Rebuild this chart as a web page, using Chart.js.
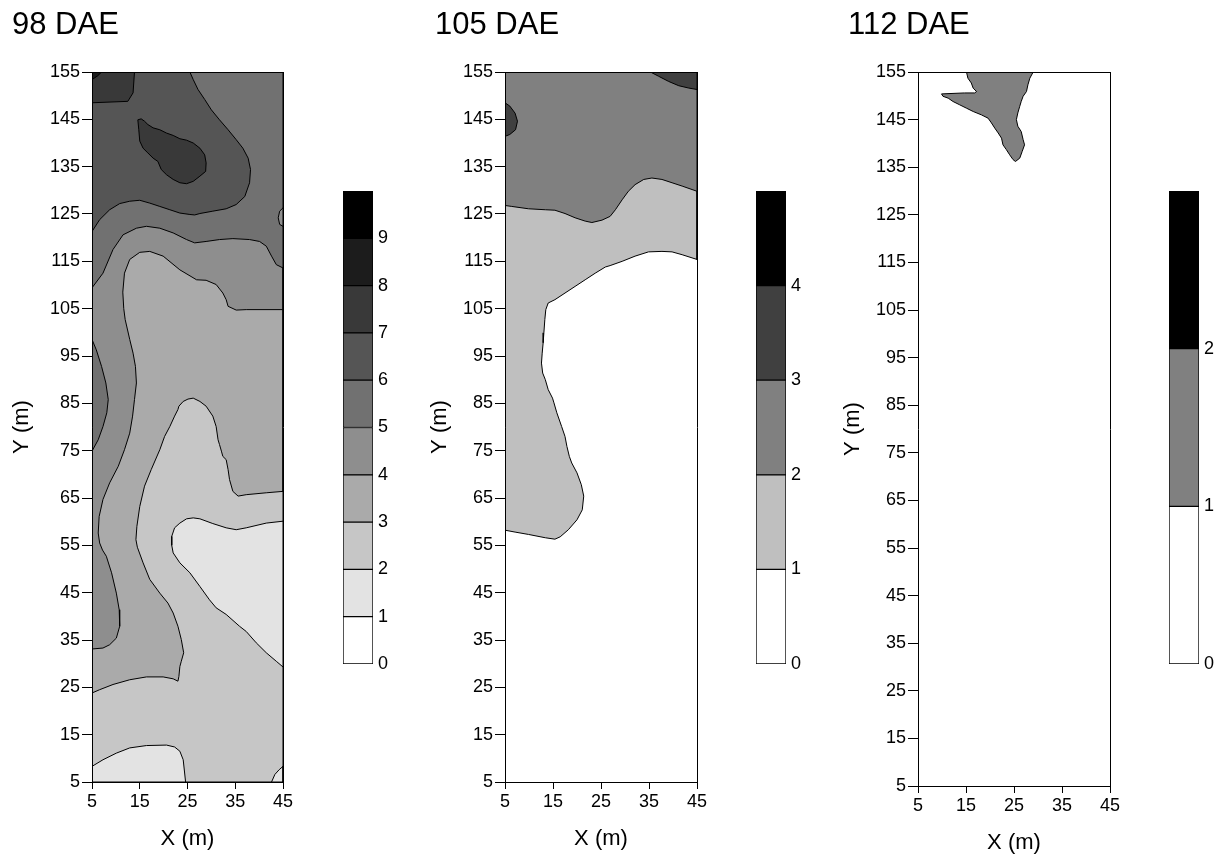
<!DOCTYPE html>
<html>
<head>
<meta charset="utf-8">
<script src="https://cdn.jsdelivr.net/npm/chart.js@4.4.1/dist/chart.umd.min.js"></script>
<style>
  body { margin: 0; background: #fff; width: 1230px; height: 859px; position: relative; overflow: hidden; }
  canvas { position: absolute; top: 0; }
</style>
</head>
<body>
<canvas id="map98" width="300" height="859" style="left:2px"></canvas>
<canvas id="bar98" width="60" height="859" style="left:343px"></canvas>
<canvas id="map105" width="300" height="859" style="left:425px"></canvas>
<canvas id="bar105" width="60" height="859" style="left:756px"></canvas>
<canvas id="map112" width="300" height="859" style="left:838px"></canvas>
<canvas id="bar112" width="60" height="859" style="left:1169px"></canvas>
<script>
// contour outlines, [X (m), Y (m)]

// 98 DAE
const dae98_all = [[5, 5], [45, 5], [45, 155], [5, 155], [5, 5]];
const dae98_lt2_a = [[45, 60.1], [41.5, 59.7], [37.3, 58.7], [35.2, 58.3], [33.1, 58.7], [30.3, 59.6], [27.6, 60.6], [26.2, 60.8], [24.8, 60.6], [23.4, 59.7], [22.3, 58.7], [21.7, 56.9], [21.7, 55], [22, 53.4], [23.4, 51.3], [25.5, 49.2], [27.6, 46.3], [29.6, 43.5], [31, 41.8], [33.1, 40.4], [35.9, 37.9], [37.3, 36.8], [39.4, 34.4], [41.5, 32.3], [43.6, 30.5], [45, 29.3], [45, 60.1]];
const dae98_lt2_b = [[5, 8.3], [7.3, 9.7], [10.1, 11.1], [12.9, 12.2], [16.4, 12.7], [20.6, 12.8], [22.3, 12.4], [23.4, 11.5], [24.1, 9.7], [24.4, 6.9], [24.6, 5], [5, 5], [5, 8.3]];
const dae98_lt2_c = [[42.6, 5], [43.3, 6.6], [44.2, 7.6], [45, 8.3], [45, 5], [42.6, 5]];
const dae98_ge3 = [[45, 66.4], [41.5, 66.1], [37.3, 65.7], [35.6, 65.4], [34.5, 66.4], [33.8, 68.9], [33.5, 71], [33.1, 73.1], [32.4, 73.8], [32.1, 74.9], [31.7, 76.3], [31.4, 77.3], [31, 80.1], [30.3, 82.3], [28.9, 84.4], [27.6, 85.4], [26.2, 86.1], [25.1, 85.9], [24.1, 85.4], [23.2, 84.4], [23, 83.7], [22.3, 82.3], [21.3, 80.1], [20.2, 78], [19.2, 75.2], [17.4, 71], [16, 67.5], [15, 63.2], [14.4, 59], [14.2, 56.2], [14.5, 54.6], [15.7, 51.3], [17.1, 47.8], [19.2, 44.9], [20.9, 42.8], [22, 40.7], [23, 37.9], [23.7, 35.1], [24.2, 32.3], [23.7, 30.5], [23.4, 29.4], [23.2, 27.3], [23, 26.3], [22, 26.8], [19.9, 27.2], [16.4, 27.2], [12.9, 26.6], [9.4, 25.6], [6.6, 24.5], [5, 23.8], [5, 155], [45, 155], [45, 66.4]];
const dae98_ge4 = [[45, 104.8], [37.3, 104.8], [35.2, 104.7], [33.5, 105.5], [33.1, 106.9], [32.4, 108.3], [31, 110.1], [28.9, 111], [26.9, 111.1], [23.4, 113.2], [19.9, 116.1], [17.1, 117.1], [15, 116.9], [12.9, 115.4], [11.8, 112.5], [11.45, 108.5], [11.65, 105], [11.95, 102.7], [12.9, 98.5], [13.6, 95.6], [14.1, 92.8], [14.3, 89.3], [13.9, 85.8], [13.5, 82.3], [12.9, 78.7], [11.8, 75.2], [10.5, 71.7], [8.7, 68.2], [7.3, 64.7], [6.5, 61.1], [6.3, 57.6], [6.6, 55.5], [7.2, 54], [8, 52.7], [9.1, 49.2], [10.1, 44.9], [10.7, 41.4], [10.8, 37.9], [10.1, 35.4], [8.7, 34], [7.3, 33.3], [5, 33.1], [5, 155], [45, 155], [45, 104.8]];
const dae98_ge5 = [[5, 109.4], [7.3, 112.5], [9.4, 117.5], [11.5, 120.6], [14.3, 122], [16.4, 122.4], [19.2, 122], [22, 121], [24.8, 119.6], [26.5, 118.9], [28.9, 119.2], [31.7, 119.6], [34.5, 119.8], [38, 119.6], [40.1, 119.2], [41.5, 118.2], [42.6, 116.1], [43.6, 114.3], [45, 113.6], [45, 155], [5, 155], [5, 109.4]];
const dae98_ge5_strip = [[5, 98.5], [5.9, 96.3], [7, 92.8], [7.9, 89.3], [8.4, 85.8], [8.1, 83], [7.3, 80.1], [6.3, 77.3], [5, 74.9], [5, 98.5]];
const dae98_lt5_notch = [[45, 126.3], [44.3, 125.6], [44, 124.2], [44.3, 122.8], [45, 122.4], [45, 126.3]];
const dae98_ge6 = [[25.5, 155], [26.2, 153.4], [27.2, 151.3], [28.6, 149.2], [30, 147], [31.7, 144.9], [33.5, 142.8], [35.2, 140.7], [36.6, 138.9], [37.7, 136.8], [38.2, 134.4], [38, 131.6], [37, 128.7], [35.2, 127], [33.1, 126.1], [30.3, 125.6], [27.6, 125.1], [26.5, 124.8], [25.5, 124.9], [23.4, 125.2], [21.3, 125.9], [19.2, 126.6], [17.1, 127.3], [15, 127.9], [12.9, 127.7], [10.8, 127.2], [8.7, 125.9], [6.6, 123.8], [5, 121.3], [5, 155], [25.5, 155]];
const dae98_ge7_corner = [[5, 155], [13.9, 155], [13.6, 150.6], [12.5, 148.8], [5, 148.5], [5, 155]];
const dae98_ge7_blob = [[14.6, 144.9], [15.3, 145.1], [16, 144.6], [16.7, 143.9], [17.8, 143.2], [19.2, 142.8], [20.6, 142.1], [22, 141.6], [23.4, 140.9], [24.8, 140.6], [26.2, 140], [27.6, 138.9], [28.6, 137.5], [28.9, 135.8], [28.8, 134], [27.6, 133], [26.2, 131.9], [24.8, 131.4], [23.4, 131.6], [22, 132.3], [20.6, 133.3], [19.5, 134.4], [18.8, 136.1], [17.8, 136.8], [16.7, 137.9], [15.7, 138.9], [15, 140.4], [14.8, 142.8], [14.6, 144.9]];
const dae98_ge8 = [[5, 155], [7, 155], [6.2, 154.2], [5, 153.4], [5, 155]];

// 105 DAE
const dae105_ge1 = [[45, 115.4], [41.9, 116.4], [39.8, 117], [37.7, 117.1], [34.9, 117], [32.1, 116.1], [29.4, 115], [26.9, 114.1], [25.9, 113.8], [23.8, 112.5], [21.7, 111.1], [19.6, 109.7], [17.5, 108.3], [15.4, 106.9], [14, 106.2], [13.5, 104.8], [13.3, 102.7], [13.1, 99.9], [12.95, 97.8], [12.75, 95.6], [12.6, 93.5], [12.85, 91.4], [13.4, 90], [14, 87.9], [14.9, 86.1], [15.2, 85.1], [15.8, 83], [16.8, 80.1], [17.5, 78], [17.9, 75.9], [18.4, 73.8], [18.9, 72.4], [20, 70.3], [20.9, 67.8], [21.4, 65.4], [21.1, 62.5], [20, 60.4], [18.2, 58.3], [16.5, 56.8], [15.4, 56.3], [13.4, 56.6], [9.9, 57.3], [7.1, 57.8], [5, 58.2], [5, 155], [45, 155], [45, 115.4]];
const dae105_ge2 = [[5, 126.8], [6.4, 126.6], [9.9, 126.1], [13.4, 125.9], [15.4, 125.8], [17.5, 125.1], [19.6, 124.2], [21.7, 123.5], [23.1, 123.2], [25.2, 123.7], [26.9, 124.5], [28, 125.9], [29.4, 128], [30.7, 129.8], [32.1, 131.2], [33.9, 132.3], [35.6, 132.6], [37.7, 132.3], [39.8, 131.6], [41.9, 130.9], [45, 129.8], [45, 155], [5, 155], [5, 126.8]];
const dae105_ge3_a = [[35.3, 155], [37, 154.1], [39.1, 153], [41.2, 152.1], [43.3, 151.6], [45, 151.3], [45, 155], [35.3, 155]];
const dae105_ge3_b = [[5, 148.5], [6, 147.8], [7.1, 146.3], [7.6, 144.6], [7.2, 142.8], [6, 141.8], [5, 141.4], [5, 148.5]];

// 112 DAE
const dae112_ge1 = [[15.1, 155], [15.4, 153.7], [16.1, 152.7], [16.5, 151.6], [17.2, 150.9], [16.8, 150.6], [14.7, 150.6], [9.9, 150.4], [10.2, 149.9], [11.3, 149.5], [12.3, 148.8], [13.7, 148.1], [15.1, 147.4], [16.5, 146.7], [18.2, 146], [19.6, 145.3], [20.3, 144.3], [21, 143.2], [21.7, 142.2], [22.4, 141.1], [22.7, 139.7], [23.4, 138.7], [24.1, 137.6], [24.8, 136.6], [25.3, 136.2], [26.2, 136.9], [26.7, 138.3], [27.2, 139.7], [26.9, 140.8], [26.5, 142.5], [25.8, 143.6], [25.5, 145], [25.8, 146.4], [26.2, 147.8], [26.5, 148.8], [26.9, 149.9], [27.6, 150.9], [27.9, 152.3], [28.3, 153.7], [29, 155], [15.1, 155]];

// [outline, band index], listed from the bottom layer up
const layers98 = [[dae98_all, 2], [dae98_lt2_a, 1], [dae98_lt2_b, 1], [dae98_lt2_c, 1], [dae98_ge3, 3], [dae98_ge4, 4], [dae98_ge5, 5], [dae98_ge5_strip, 5], [dae98_lt5_notch, 4], [dae98_ge6, 6], [dae98_ge7_corner, 7], [dae98_ge7_blob, 7], [dae98_ge8, 8]];
const layers105 = [[dae105_ge1, 1], [dae105_ge2, 2], [dae105_ge3_a, 3], [dae105_ge3_b, 3]];
const layers112 = [[dae112_ge1, 1]];

// colour scale breaks
const levels98 = [0, 1, 2, 3, 4, 5, 6, 7, 8, 9, 10];
const levels105 = [0, 1, 2, 3, 4, 5];
const levels112 = [0, 1, 2, 3];

const shades98 = ['#ffffff', '#e3e3e3', '#c6c6c6', '#aaaaaa', '#8e8e8e', '#717171', '#555555', '#393939', '#1c1c1c', '#000000'];
const shades105 = ['#ffffff', '#bfbfbf', '#808080', '#404040', '#000000'];
const shades112 = ['#ffffff', '#808080', '#000000'];

Chart.defaults.font.family = "'Liberation Sans', Arial, Helvetica, sans-serif";
Chart.defaults.color = '#000';
Chart.defaults.animation = false;

const tickFont = { size: 18 };
const axisFont = { size: 22 };

function drawMap(id, title, layers, shades, box) {
  const datasets = layers.map(([poly, band], i) => ({
    data: poly.map(([x, y]) => ({ x, y })),
    showLine: true,
    fill: 'shape',
    backgroundColor: shades[band],
    borderColor: '#000',
    borderWidth: 1,
    pointRadius: 0,
    tension: 0,
    order: layers.length - i
  }));

  const frame = { color: '#000', width: 1, z: 1 };

  new Chart(document.getElementById(id), {
    type: 'scatter',
    data: { datasets },
    options: {
      responsive: false,
      // the 10px left pad leaves room for the rotated Y title
      layout: { padding: { left: 10, top: 0, right: box.padRight, bottom: 0 } },
      plugins: {
        legend: { display: false },
        tooltip: { enabled: false },
        title: {
          display: true,
          text: title,
          align: 'start',
          color: '#000',
          font: { size: 31, weight: 'normal' },
          padding: { top: 7, bottom: 72 - 7 - 31 * 1.2 }
        }
      },
      scales: {
        x: {
          type: 'linear', position: 'bottom', min: 5, max: 45,
          ticks: { stepSize: 10, font: tickFont, padding: 2, maxRotation: 0 },
          grid: { drawOnChartArea: false, color: '#000', tickLength: 7 },
          border: frame,
          title: { display: true, text: 'X (m)', font: axisFont, padding: { top: 0, bottom: box.xTitlePad } },
          afterFit: (s) => { s.height = box.xAxisH; }
        },
        y: {
          type: 'linear', position: 'left', min: 5, max: 155,
          ticks: { stepSize: 10, font: tickFont, padding: 2 },
          grid: { drawOnChartArea: false, color: '#000', tickLength: 10 },
          border: frame,
          title: { display: true, text: 'Y (m)', font: axisFont, padding: { top: box.yTitlePad, bottom: 0 } },
          afterFit: (s) => { s.width = box.yAxisW; }
        },
        xTop: {
          type: 'linear', position: 'top', min: 5, max: 45,
          ticks: { display: false },
          grid: { drawOnChartArea: false, drawTicks: false },
          border: frame,
          afterFit: (s) => { s.height = 0; }
        },
        yRight: {
          type: 'linear', position: 'right', min: 5, max: 155,
          ticks: { display: false },
          grid: { drawOnChartArea: false, drawTicks: false },
          border: frame,
          afterFit: (s) => { s.width = 0; }
        }
      }
    }
  });
}

function drawScale(id, levels, shades) {
  const top = levels[levels.length - 1];
  const datasets = shades.map((c, i) => ({
    data: [[levels[i], levels[i + 1]]],
    backgroundColor: c,
    borderColor: '#000',
    borderWidth: 1,
    borderSkipped: false,
    barPercentage: 1,
    categoryPercentage: 1,
    grouped: false
  }));

  new Chart(document.getElementById(id), {
    type: 'bar',
    data: { labels: [''], datasets },
    options: {
      responsive: false,
      layout: { padding: { left: 0, top: 191, right: 0, bottom: 859 - 664 } },
      plugins: { legend: { display: false }, tooltip: { enabled: false } },
      scales: {
        x: { display: false },
        y: {
          position: 'right', min: 0, max: top,
          ticks: { stepSize: 1, font: tickFont, padding: 5, callback: (v) => (v < top ? v : '') },
          grid: { display: false, drawTicks: false },
          border: { display: false },
          afterFit: (s) => { s.width = 30; }
        }
      }
    }
  });
}

drawMap('map98', '98 DAE', layers98, shades98, { padRight: 19, yAxisW: 80, xAxisH: 77, xTitlePad: 7, yTitlePad: -3 });
drawMap('map105', '105 DAE', layers105, shades105, { padRight: 28, yAxisW: 70, xAxisH: 77, xTitlePad: 7, yTitlePad: -8 });
drawMap('map112', '112 DAE', layers112, shades112, { padRight: 28, yAxisW: 70, xAxisH: 73, xTitlePad: 3, yTitlePad: -8 });

drawScale('bar98', levels98, shades98);
drawScale('bar105', levels105, shades105);
drawScale('bar112', levels112, shades112);
</script>
</body>
</html>
